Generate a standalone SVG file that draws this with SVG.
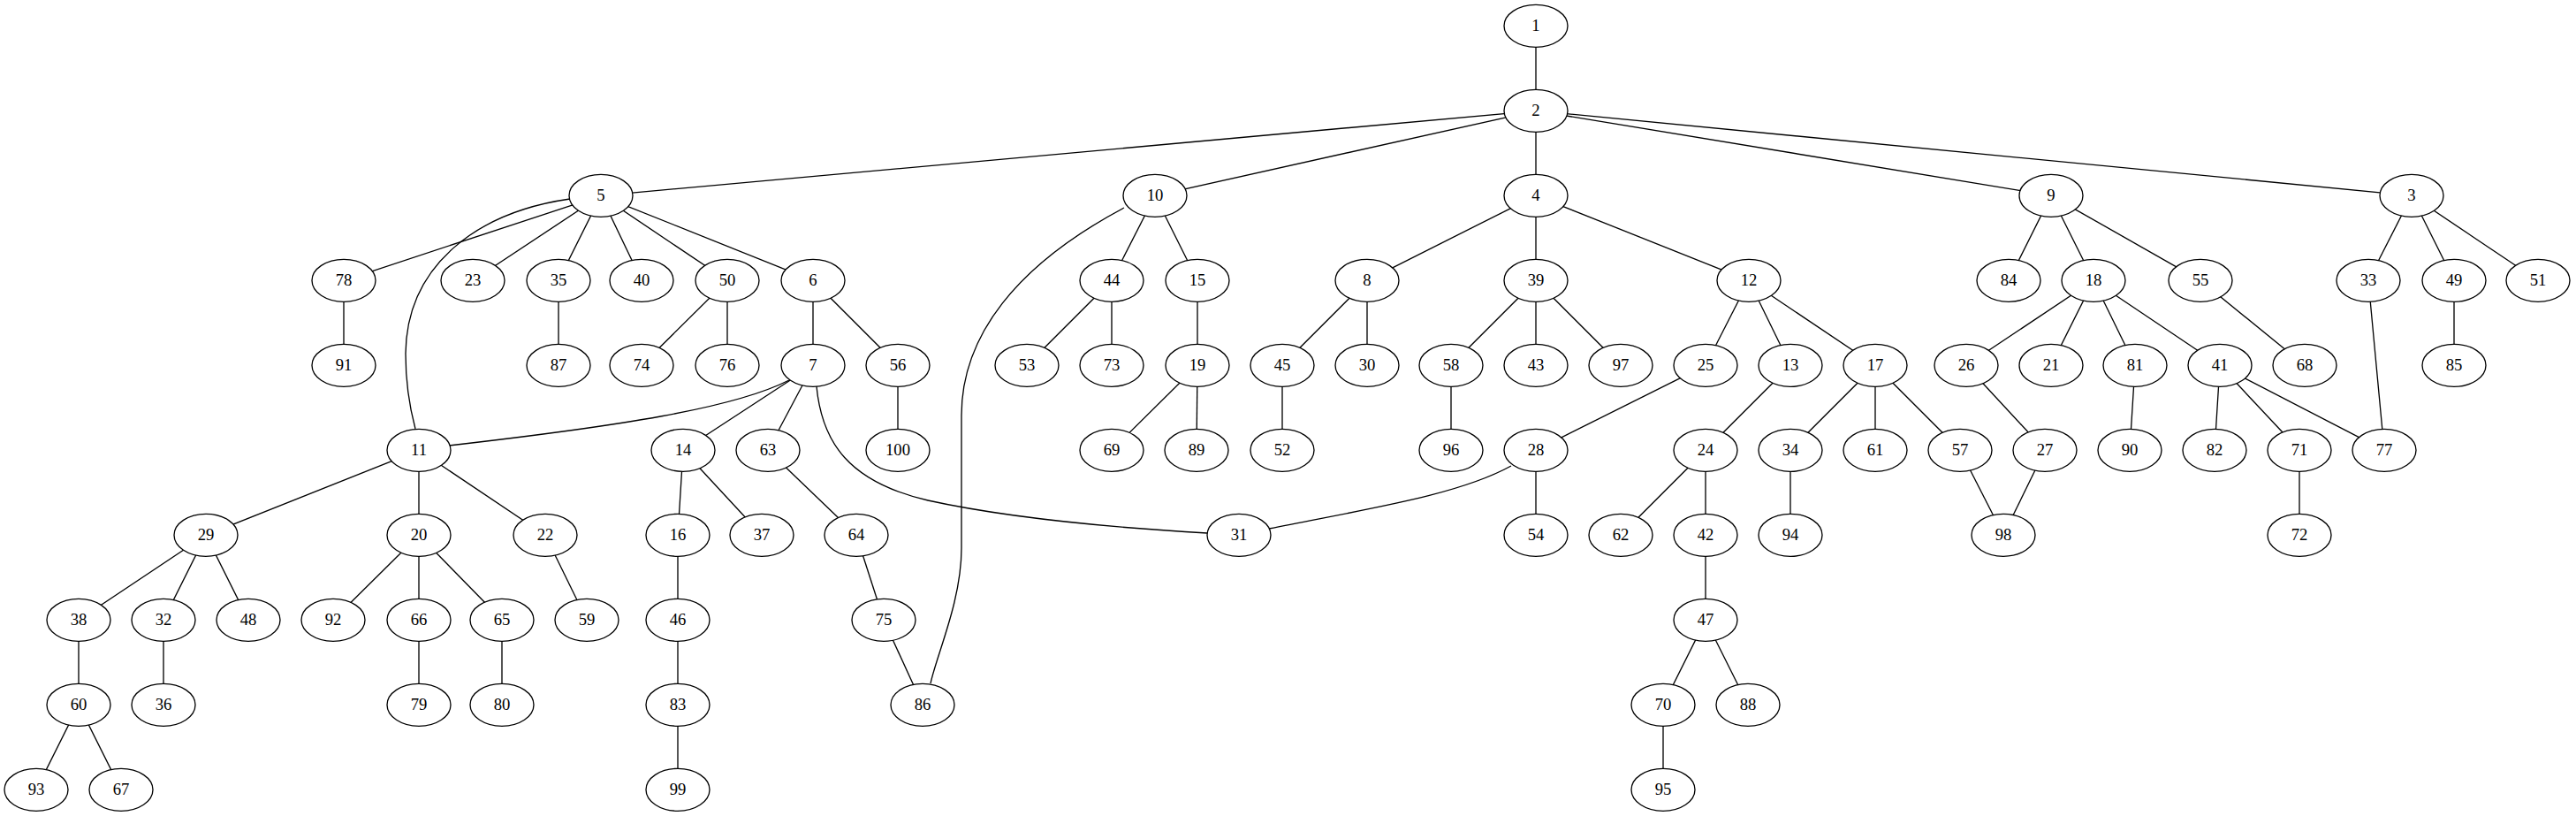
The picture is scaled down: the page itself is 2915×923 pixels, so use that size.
<svg xmlns="http://www.w3.org/2000/svg" width="2915" height="923" viewBox="0 0 2915 923">
<style>
.node ellipse{fill:#fff;stroke:#000;stroke-width:1.33}
.node text{font-family:"Liberation Serif","Times New Roman",serif;font-size:18.67px;text-anchor:middle;fill:#000}
#edges line,#edges path{stroke:#000;stroke-width:1.33;fill:none}
</style>
<rect width="2915" height="923" fill="#fff"/>
<g id="edges">
<line x1="1738" y1="29.3" x2="1738" y2="125.3"/>
<line x1="1738" y1="125.3" x2="680" y2="221.3"/>
<line x1="1738" y1="125.3" x2="1307" y2="221.3"/>
<line x1="1738" y1="125.3" x2="1738" y2="221.3"/>
<line x1="1738" y1="125.3" x2="2321" y2="221.3"/>
<line x1="1738" y1="125.3" x2="2729" y2="221.3"/>
<line x1="680" y1="221.3" x2="389" y2="317.3"/>
<line x1="680" y1="221.3" x2="535" y2="317.3"/>
<line x1="680" y1="221.3" x2="632" y2="317.3"/>
<line x1="680" y1="221.3" x2="726" y2="317.3"/>
<line x1="680" y1="221.3" x2="823" y2="317.3"/>
<line x1="680" y1="221.3" x2="920" y2="317.3"/>
<path d="M645,225 C540,240 460,300 459,400 C459,440 466,470 470,485"/>
<line x1="1307" y1="221.3" x2="1258" y2="317.3"/>
<line x1="1307" y1="221.3" x2="1355" y2="317.3"/>
<path d="M1272,235 C1150,300 1088,380 1088,470 L1088,620 C1088,680 1060,740 1053,773"/>
<line x1="1738" y1="221.3" x2="1547" y2="317.3"/>
<line x1="1738" y1="221.3" x2="1738" y2="317.3"/>
<line x1="1738" y1="221.3" x2="1979" y2="317.3"/>
<line x1="2321" y1="221.3" x2="2273" y2="317.3"/>
<line x1="2321" y1="221.3" x2="2369" y2="317.3"/>
<line x1="2321" y1="221.3" x2="2490" y2="317.3"/>
<line x1="2729" y1="221.3" x2="2680" y2="317.3"/>
<line x1="2729" y1="221.3" x2="2777" y2="317.3"/>
<line x1="2729" y1="221.3" x2="2872" y2="317.3"/>
<line x1="389" y1="317.3" x2="389" y2="413.3"/>
<line x1="632" y1="317.3" x2="632" y2="413.3"/>
<line x1="823" y1="317.3" x2="726" y2="413.3"/>
<line x1="823" y1="317.3" x2="823" y2="413.3"/>
<line x1="920" y1="317.3" x2="920" y2="413.3"/>
<line x1="920" y1="317.3" x2="1016" y2="413.3"/>
<line x1="1258" y1="317.3" x2="1162" y2="413.3"/>
<line x1="1258" y1="317.3" x2="1258" y2="413.3"/>
<line x1="1355" y1="317.3" x2="1355" y2="413.3"/>
<line x1="1547" y1="317.3" x2="1451" y2="413.3"/>
<line x1="1547" y1="317.3" x2="1547" y2="413.3"/>
<line x1="1738" y1="317.3" x2="1642" y2="413.3"/>
<line x1="1738" y1="317.3" x2="1738" y2="413.3"/>
<line x1="1738" y1="317.3" x2="1834" y2="413.3"/>
<line x1="1979" y1="317.3" x2="1930" y2="413.3"/>
<line x1="1979" y1="317.3" x2="2026" y2="413.3"/>
<line x1="1979" y1="317.3" x2="2122" y2="413.3"/>
<line x1="2369" y1="317.3" x2="2225" y2="413.3"/>
<line x1="2369" y1="317.3" x2="2321" y2="413.3"/>
<line x1="2369" y1="317.3" x2="2416" y2="413.3"/>
<line x1="2369" y1="317.3" x2="2512" y2="413.3"/>
<line x1="2490" y1="317.3" x2="2608" y2="413.3"/>
<line x1="2680" y1="317.3" x2="2698" y2="509.3"/>
<line x1="2777" y1="317.3" x2="2777" y2="413.3"/>
<path d="M893,430 C830,462 700,482 508,504"/>
<line x1="920" y1="413.3" x2="773" y2="509.3"/>
<line x1="920" y1="413.3" x2="869" y2="509.3"/>
<path d="M924,437 C930,500 960,545 1050,566 C1150,588 1280,598 1366,603"/>
<line x1="1016" y1="413.3" x2="1016" y2="509.3"/>
<line x1="1355" y1="413.3" x2="1258" y2="509.3"/>
<line x1="1355" y1="413.3" x2="1354" y2="509.3"/>
<line x1="1451" y1="413.3" x2="1451" y2="509.3"/>
<line x1="1642" y1="413.3" x2="1642" y2="509.3"/>
<line x1="1930" y1="413.3" x2="1738" y2="509.3"/>
<line x1="2026" y1="413.3" x2="1930" y2="509.3"/>
<line x1="2122" y1="413.3" x2="2026" y2="509.3"/>
<line x1="2122" y1="413.3" x2="2122" y2="509.3"/>
<line x1="2122" y1="413.3" x2="2218" y2="509.3"/>
<line x1="2225" y1="413.3" x2="2314" y2="509.3"/>
<line x1="2416" y1="413.3" x2="2410" y2="509.3"/>
<line x1="2512" y1="413.3" x2="2506" y2="509.3"/>
<line x1="2512" y1="413.3" x2="2602" y2="509.3"/>
<line x1="2512" y1="413.3" x2="2698" y2="509.3"/>
<line x1="474" y1="509.3" x2="233" y2="605.3"/>
<line x1="474" y1="509.3" x2="474" y2="605.3"/>
<line x1="474" y1="509.3" x2="617" y2="605.3"/>
<line x1="773" y1="509.3" x2="767" y2="605.3"/>
<line x1="773" y1="509.3" x2="862" y2="605.3"/>
<line x1="869" y1="509.3" x2="969" y2="605.3"/>
<path d="M1710,527 C1650,560 1550,575 1436,598"/>
<line x1="1738" y1="509.3" x2="1738" y2="605.3"/>
<line x1="1930" y1="509.3" x2="1834" y2="605.3"/>
<line x1="1930" y1="509.3" x2="1930" y2="605.3"/>
<line x1="2026" y1="509.3" x2="2026" y2="605.3"/>
<line x1="2218" y1="509.3" x2="2267" y2="605.3"/>
<line x1="2314" y1="509.3" x2="2267" y2="605.3"/>
<line x1="2602" y1="509.3" x2="2602" y2="605.3"/>
<line x1="233" y1="605.3" x2="89" y2="701.3"/>
<line x1="233" y1="605.3" x2="185" y2="701.3"/>
<line x1="233" y1="605.3" x2="281" y2="701.3"/>
<line x1="474" y1="605.3" x2="377" y2="701.3"/>
<line x1="474" y1="605.3" x2="474" y2="701.3"/>
<line x1="474" y1="605.3" x2="568" y2="701.3"/>
<line x1="617" y1="605.3" x2="664" y2="701.3"/>
<line x1="767" y1="605.3" x2="767" y2="701.3"/>
<line x1="969" y1="605.3" x2="1000" y2="701.3"/>
<line x1="1930" y1="605.3" x2="1930" y2="701.3"/>
<line x1="89" y1="701.3" x2="89" y2="797.3"/>
<line x1="185" y1="701.3" x2="185" y2="797.3"/>
<line x1="474" y1="701.3" x2="474" y2="797.3"/>
<line x1="568" y1="701.3" x2="568" y2="797.3"/>
<line x1="767" y1="701.3" x2="767" y2="797.3"/>
<line x1="1000" y1="701.3" x2="1044" y2="797.3"/>
<line x1="1930" y1="701.3" x2="1882" y2="797.3"/>
<line x1="1930" y1="701.3" x2="1978" y2="797.3"/>
<line x1="89" y1="797.3" x2="41" y2="893.3"/>
<line x1="89" y1="797.3" x2="137" y2="893.3"/>
<line x1="767" y1="797.3" x2="767" y2="893.3"/>
<line x1="1882" y1="797.3" x2="1882" y2="893.3"/>
</g>
<g id="node_1" class="node"><ellipse cx="1738" cy="29.3" rx="36" ry="24"/><text x="1738" y="35.3">1</text></g>
<g id="node_2" class="node"><ellipse cx="1738" cy="125.3" rx="36" ry="24"/><text x="1738" y="131.3">2</text></g>
<g id="node_5" class="node"><ellipse cx="680" cy="221.3" rx="36" ry="24"/><text x="680" y="227.3">5</text></g>
<g id="node_10" class="node"><ellipse cx="1307" cy="221.3" rx="36" ry="24"/><text x="1307" y="227.3">10</text></g>
<g id="node_4" class="node"><ellipse cx="1738" cy="221.3" rx="36" ry="24"/><text x="1738" y="227.3">4</text></g>
<g id="node_9" class="node"><ellipse cx="2321" cy="221.3" rx="36" ry="24"/><text x="2321" y="227.3">9</text></g>
<g id="node_3" class="node"><ellipse cx="2729" cy="221.3" rx="36" ry="24"/><text x="2729" y="227.3">3</text></g>
<g id="node_78" class="node"><ellipse cx="389" cy="317.3" rx="36" ry="24"/><text x="389" y="323.3">78</text></g>
<g id="node_23" class="node"><ellipse cx="535" cy="317.3" rx="36" ry="24"/><text x="535" y="323.3">23</text></g>
<g id="node_35" class="node"><ellipse cx="632" cy="317.3" rx="36" ry="24"/><text x="632" y="323.3">35</text></g>
<g id="node_40" class="node"><ellipse cx="726" cy="317.3" rx="36" ry="24"/><text x="726" y="323.3">40</text></g>
<g id="node_50" class="node"><ellipse cx="823" cy="317.3" rx="36" ry="24"/><text x="823" y="323.3">50</text></g>
<g id="node_6" class="node"><ellipse cx="920" cy="317.3" rx="36" ry="24"/><text x="920" y="323.3">6</text></g>
<g id="node_44" class="node"><ellipse cx="1258" cy="317.3" rx="36" ry="24"/><text x="1258" y="323.3">44</text></g>
<g id="node_15" class="node"><ellipse cx="1355" cy="317.3" rx="36" ry="24"/><text x="1355" y="323.3">15</text></g>
<g id="node_8" class="node"><ellipse cx="1547" cy="317.3" rx="36" ry="24"/><text x="1547" y="323.3">8</text></g>
<g id="node_39" class="node"><ellipse cx="1738" cy="317.3" rx="36" ry="24"/><text x="1738" y="323.3">39</text></g>
<g id="node_12" class="node"><ellipse cx="1979" cy="317.3" rx="36" ry="24"/><text x="1979" y="323.3">12</text></g>
<g id="node_84" class="node"><ellipse cx="2273" cy="317.3" rx="36" ry="24"/><text x="2273" y="323.3">84</text></g>
<g id="node_18" class="node"><ellipse cx="2369" cy="317.3" rx="36" ry="24"/><text x="2369" y="323.3">18</text></g>
<g id="node_55" class="node"><ellipse cx="2490" cy="317.3" rx="36" ry="24"/><text x="2490" y="323.3">55</text></g>
<g id="node_33" class="node"><ellipse cx="2680" cy="317.3" rx="36" ry="24"/><text x="2680" y="323.3">33</text></g>
<g id="node_49" class="node"><ellipse cx="2777" cy="317.3" rx="36" ry="24"/><text x="2777" y="323.3">49</text></g>
<g id="node_51" class="node"><ellipse cx="2872" cy="317.3" rx="36" ry="24"/><text x="2872" y="323.3">51</text></g>
<g id="node_91" class="node"><ellipse cx="389" cy="413.3" rx="36" ry="24"/><text x="389" y="419.3">91</text></g>
<g id="node_87" class="node"><ellipse cx="632" cy="413.3" rx="36" ry="24"/><text x="632" y="419.3">87</text></g>
<g id="node_74" class="node"><ellipse cx="726" cy="413.3" rx="36" ry="24"/><text x="726" y="419.3">74</text></g>
<g id="node_76" class="node"><ellipse cx="823" cy="413.3" rx="36" ry="24"/><text x="823" y="419.3">76</text></g>
<g id="node_7" class="node"><ellipse cx="920" cy="413.3" rx="36" ry="24"/><text x="920" y="419.3">7</text></g>
<g id="node_56" class="node"><ellipse cx="1016" cy="413.3" rx="36" ry="24"/><text x="1016" y="419.3">56</text></g>
<g id="node_53" class="node"><ellipse cx="1162" cy="413.3" rx="36" ry="24"/><text x="1162" y="419.3">53</text></g>
<g id="node_73" class="node"><ellipse cx="1258" cy="413.3" rx="36" ry="24"/><text x="1258" y="419.3">73</text></g>
<g id="node_19" class="node"><ellipse cx="1355" cy="413.3" rx="36" ry="24"/><text x="1355" y="419.3">19</text></g>
<g id="node_45" class="node"><ellipse cx="1451" cy="413.3" rx="36" ry="24"/><text x="1451" y="419.3">45</text></g>
<g id="node_30" class="node"><ellipse cx="1547" cy="413.3" rx="36" ry="24"/><text x="1547" y="419.3">30</text></g>
<g id="node_58" class="node"><ellipse cx="1642" cy="413.3" rx="36" ry="24"/><text x="1642" y="419.3">58</text></g>
<g id="node_43" class="node"><ellipse cx="1738" cy="413.3" rx="36" ry="24"/><text x="1738" y="419.3">43</text></g>
<g id="node_97" class="node"><ellipse cx="1834" cy="413.3" rx="36" ry="24"/><text x="1834" y="419.3">97</text></g>
<g id="node_25" class="node"><ellipse cx="1930" cy="413.3" rx="36" ry="24"/><text x="1930" y="419.3">25</text></g>
<g id="node_13" class="node"><ellipse cx="2026" cy="413.3" rx="36" ry="24"/><text x="2026" y="419.3">13</text></g>
<g id="node_17" class="node"><ellipse cx="2122" cy="413.3" rx="36" ry="24"/><text x="2122" y="419.3">17</text></g>
<g id="node_26" class="node"><ellipse cx="2225" cy="413.3" rx="36" ry="24"/><text x="2225" y="419.3">26</text></g>
<g id="node_21" class="node"><ellipse cx="2321" cy="413.3" rx="36" ry="24"/><text x="2321" y="419.3">21</text></g>
<g id="node_81" class="node"><ellipse cx="2416" cy="413.3" rx="36" ry="24"/><text x="2416" y="419.3">81</text></g>
<g id="node_41" class="node"><ellipse cx="2512" cy="413.3" rx="36" ry="24"/><text x="2512" y="419.3">41</text></g>
<g id="node_68" class="node"><ellipse cx="2608" cy="413.3" rx="36" ry="24"/><text x="2608" y="419.3">68</text></g>
<g id="node_85" class="node"><ellipse cx="2777" cy="413.3" rx="36" ry="24"/><text x="2777" y="419.3">85</text></g>
<g id="node_11" class="node"><ellipse cx="474" cy="509.3" rx="36" ry="24"/><text x="474" y="515.3">11</text></g>
<g id="node_14" class="node"><ellipse cx="773" cy="509.3" rx="36" ry="24"/><text x="773" y="515.3">14</text></g>
<g id="node_63" class="node"><ellipse cx="869" cy="509.3" rx="36" ry="24"/><text x="869" y="515.3">63</text></g>
<g id="node_100" class="node"><ellipse cx="1016" cy="509.3" rx="36" ry="24"/><text x="1016" y="515.3">100</text></g>
<g id="node_69" class="node"><ellipse cx="1258" cy="509.3" rx="36" ry="24"/><text x="1258" y="515.3">69</text></g>
<g id="node_89" class="node"><ellipse cx="1354" cy="509.3" rx="36" ry="24"/><text x="1354" y="515.3">89</text></g>
<g id="node_52" class="node"><ellipse cx="1451" cy="509.3" rx="36" ry="24"/><text x="1451" y="515.3">52</text></g>
<g id="node_96" class="node"><ellipse cx="1642" cy="509.3" rx="36" ry="24"/><text x="1642" y="515.3">96</text></g>
<g id="node_28" class="node"><ellipse cx="1738" cy="509.3" rx="36" ry="24"/><text x="1738" y="515.3">28</text></g>
<g id="node_24" class="node"><ellipse cx="1930" cy="509.3" rx="36" ry="24"/><text x="1930" y="515.3">24</text></g>
<g id="node_34" class="node"><ellipse cx="2026" cy="509.3" rx="36" ry="24"/><text x="2026" y="515.3">34</text></g>
<g id="node_61" class="node"><ellipse cx="2122" cy="509.3" rx="36" ry="24"/><text x="2122" y="515.3">61</text></g>
<g id="node_57" class="node"><ellipse cx="2218" cy="509.3" rx="36" ry="24"/><text x="2218" y="515.3">57</text></g>
<g id="node_27" class="node"><ellipse cx="2314" cy="509.3" rx="36" ry="24"/><text x="2314" y="515.3">27</text></g>
<g id="node_90" class="node"><ellipse cx="2410" cy="509.3" rx="36" ry="24"/><text x="2410" y="515.3">90</text></g>
<g id="node_82" class="node"><ellipse cx="2506" cy="509.3" rx="36" ry="24"/><text x="2506" y="515.3">82</text></g>
<g id="node_71" class="node"><ellipse cx="2602" cy="509.3" rx="36" ry="24"/><text x="2602" y="515.3">71</text></g>
<g id="node_77" class="node"><ellipse cx="2698" cy="509.3" rx="36" ry="24"/><text x="2698" y="515.3">77</text></g>
<g id="node_29" class="node"><ellipse cx="233" cy="605.3" rx="36" ry="24"/><text x="233" y="611.3">29</text></g>
<g id="node_20" class="node"><ellipse cx="474" cy="605.3" rx="36" ry="24"/><text x="474" y="611.3">20</text></g>
<g id="node_22" class="node"><ellipse cx="617" cy="605.3" rx="36" ry="24"/><text x="617" y="611.3">22</text></g>
<g id="node_16" class="node"><ellipse cx="767" cy="605.3" rx="36" ry="24"/><text x="767" y="611.3">16</text></g>
<g id="node_37" class="node"><ellipse cx="862" cy="605.3" rx="36" ry="24"/><text x="862" y="611.3">37</text></g>
<g id="node_64" class="node"><ellipse cx="969" cy="605.3" rx="36" ry="24"/><text x="969" y="611.3">64</text></g>
<g id="node_31" class="node"><ellipse cx="1402" cy="605.3" rx="36" ry="24"/><text x="1402" y="611.3">31</text></g>
<g id="node_54" class="node"><ellipse cx="1738" cy="605.3" rx="36" ry="24"/><text x="1738" y="611.3">54</text></g>
<g id="node_62" class="node"><ellipse cx="1834" cy="605.3" rx="36" ry="24"/><text x="1834" y="611.3">62</text></g>
<g id="node_42" class="node"><ellipse cx="1930" cy="605.3" rx="36" ry="24"/><text x="1930" y="611.3">42</text></g>
<g id="node_94" class="node"><ellipse cx="2026" cy="605.3" rx="36" ry="24"/><text x="2026" y="611.3">94</text></g>
<g id="node_98" class="node"><ellipse cx="2267" cy="605.3" rx="36" ry="24"/><text x="2267" y="611.3">98</text></g>
<g id="node_72" class="node"><ellipse cx="2602" cy="605.3" rx="36" ry="24"/><text x="2602" y="611.3">72</text></g>
<g id="node_38" class="node"><ellipse cx="89" cy="701.3" rx="36" ry="24"/><text x="89" y="707.3">38</text></g>
<g id="node_32" class="node"><ellipse cx="185" cy="701.3" rx="36" ry="24"/><text x="185" y="707.3">32</text></g>
<g id="node_48" class="node"><ellipse cx="281" cy="701.3" rx="36" ry="24"/><text x="281" y="707.3">48</text></g>
<g id="node_92" class="node"><ellipse cx="377" cy="701.3" rx="36" ry="24"/><text x="377" y="707.3">92</text></g>
<g id="node_66" class="node"><ellipse cx="474" cy="701.3" rx="36" ry="24"/><text x="474" y="707.3">66</text></g>
<g id="node_65" class="node"><ellipse cx="568" cy="701.3" rx="36" ry="24"/><text x="568" y="707.3">65</text></g>
<g id="node_59" class="node"><ellipse cx="664" cy="701.3" rx="36" ry="24"/><text x="664" y="707.3">59</text></g>
<g id="node_46" class="node"><ellipse cx="767" cy="701.3" rx="36" ry="24"/><text x="767" y="707.3">46</text></g>
<g id="node_75" class="node"><ellipse cx="1000" cy="701.3" rx="36" ry="24"/><text x="1000" y="707.3">75</text></g>
<g id="node_47" class="node"><ellipse cx="1930" cy="701.3" rx="36" ry="24"/><text x="1930" y="707.3">47</text></g>
<g id="node_60" class="node"><ellipse cx="89" cy="797.3" rx="36" ry="24"/><text x="89" y="803.3">60</text></g>
<g id="node_36" class="node"><ellipse cx="185" cy="797.3" rx="36" ry="24"/><text x="185" y="803.3">36</text></g>
<g id="node_79" class="node"><ellipse cx="474" cy="797.3" rx="36" ry="24"/><text x="474" y="803.3">79</text></g>
<g id="node_80" class="node"><ellipse cx="568" cy="797.3" rx="36" ry="24"/><text x="568" y="803.3">80</text></g>
<g id="node_83" class="node"><ellipse cx="767" cy="797.3" rx="36" ry="24"/><text x="767" y="803.3">83</text></g>
<g id="node_86" class="node"><ellipse cx="1044" cy="797.3" rx="36" ry="24"/><text x="1044" y="803.3">86</text></g>
<g id="node_70" class="node"><ellipse cx="1882" cy="797.3" rx="36" ry="24"/><text x="1882" y="803.3">70</text></g>
<g id="node_88" class="node"><ellipse cx="1978" cy="797.3" rx="36" ry="24"/><text x="1978" y="803.3">88</text></g>
<g id="node_93" class="node"><ellipse cx="41" cy="893.3" rx="36" ry="24"/><text x="41" y="899.3">93</text></g>
<g id="node_67" class="node"><ellipse cx="137" cy="893.3" rx="36" ry="24"/><text x="137" y="899.3">67</text></g>
<g id="node_99" class="node"><ellipse cx="767" cy="893.3" rx="36" ry="24"/><text x="767" y="899.3">99</text></g>
<g id="node_95" class="node"><ellipse cx="1882" cy="893.3" rx="36" ry="24"/><text x="1882" y="899.3">95</text></g>
</svg>
